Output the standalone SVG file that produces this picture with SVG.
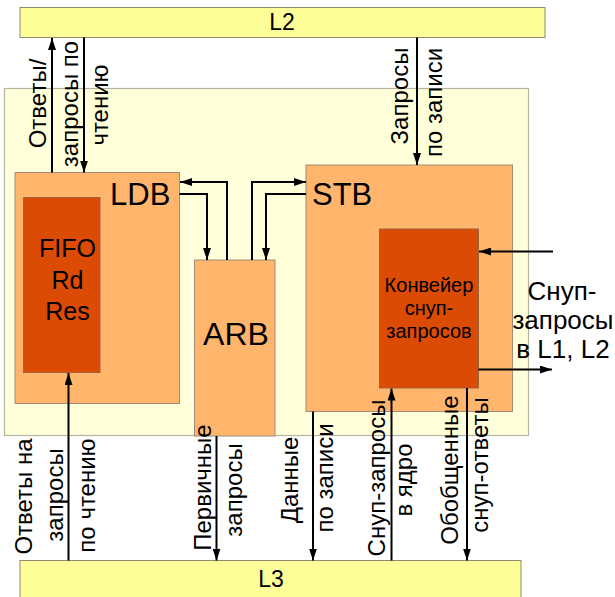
<svg xmlns="http://www.w3.org/2000/svg" width="615" height="597" viewBox="0 0 615 597">
<style>
text{font-family:"Liberation Sans",Arial,sans-serif;fill:#000}
.bar{fill:#ffff99;stroke:#8c8c6e;stroke-width:1}
.core{fill:#ffffd9;stroke:#b4b4a0;stroke-width:1.2}
.blk{fill:#ffb66c;stroke:#a08c78;stroke-width:1}
.dark{fill:#dc4b03;stroke:#a0643c;stroke-width:1}
.c{fill:none;stroke:#000;stroke-width:2}
.rl{font-size:24px;text-anchor:middle}
.big{font-size:31px}
.mid{text-anchor:middle}
</style>
<defs>
<marker id="ah" viewBox="0 0 12 8" refX="12" refY="4" markerWidth="12" markerHeight="8" markerUnits="userSpaceOnUse" orient="auto">
<path d="M0,0 L12,4 L0,8 Z" fill="#000"/>
</marker>
</defs>
<g id="L2"><rect class="bar" x="20" y="7.5" width="525" height="30"/><text x="282" y="30" font-size="23" class="mid">L2</text></g>
<g id="core"><rect class="core" x="4.5" y="88.5" width="524" height="347"/></g>
<g id="LDB"><rect class="blk" x="15" y="172.5" width="164.5" height="231"/><text x="110" y="205" class="big">LDB</text></g>
<g id="FIFO"><rect class="dark" x="23.5" y="197.5" width="76.5" height="175"/>
<text x="67.5" y="257" font-size="25" class="mid">FIFO</text>
<text x="67.5" y="289" font-size="25" class="mid">Rd</text>
<text x="67.5" y="319.5" font-size="25" class="mid">Res</text></g>
<g id="ARB"><rect class="blk" x="194.5" y="260" width="80.5" height="176"/><text x="236" y="345" font-size="32" class="mid">ARB</text></g>
<g id="STB"><rect class="blk" x="306" y="165" width="206.5" height="246.5"/><text x="312" y="205" class="big">STB</text></g>
<g id="snoop"><rect class="dark" x="379.5" y="229" width="99" height="159"/>
<text x="429" y="291.5" font-size="20" class="mid">Конвейер</text>
<text x="429" y="314.5" font-size="20" class="mid">снуп-</text>
<text x="429" y="338" font-size="20" class="mid">запросов</text></g>
<g id="L3"><rect class="bar" x="20" y="560.5" width="501" height="40"/><text x="271" y="587" font-size="23" class="mid">L3</text></g>
<g id="connectors">
<path class="c" d="M52,172.5 V38" marker-end="url(#ah)"/>
<path class="c" d="M84,37.5 V172.5" marker-end="url(#ah)"/>
<path class="c" d="M417,37.5 V165" marker-end="url(#ah)"/>
<path class="c" d="M227,260 V182 H180" marker-end="url(#ah)"/>
<path class="c" d="M179.5,194 H207 V260" marker-end="url(#ah)"/>
<path class="c" d="M252,260 V182 H306" marker-end="url(#ah)"/>
<path class="c" d="M306,194 H266 V260" marker-end="url(#ah)"/>
<path class="c" d="M553,251.5 H479" marker-end="url(#ah)"/>
<path class="c" d="M478.5,369.5 H552" marker-end="url(#ah)"/>
<path class="c" d="M68.5,560.5 V373" marker-end="url(#ah)"/>
<path class="c" d="M216.5,436 V560.5" marker-end="url(#ah)"/>
<path class="c" d="M313,411.5 V560.5" marker-end="url(#ah)"/>
<path class="c" d="M391.5,560.5 V388.5" marker-end="url(#ah)"/>
<path class="c" d="M467,388 V560.5" marker-end="url(#ah)"/>
</g>
<g id="labels">
<text class="rl" transform="translate(46,103.5) rotate(-90)">Ответы/</text>
<text class="rl" transform="translate(78,104) rotate(-90)">запросы по</text>
<text class="rl" transform="translate(108,105) rotate(-90)">чтению</text>
<text class="rl" transform="translate(408,96) rotate(-90)">Запросы</text>
<text class="rl" transform="translate(441.5,102.5) rotate(-90)">по записи</text>
<text class="rl" transform="translate(31.5,496.5) rotate(-90)">Ответы на</text>
<text class="rl" transform="translate(63,495) rotate(-90)">запросы</text>
<text class="rl" transform="translate(95,495.5) rotate(-90)">по чтению</text>
<text class="rl" transform="translate(211,487.5) rotate(-90)">Первичные</text>
<text class="rl" transform="translate(241.5,490) rotate(-90)">запросы</text>
<text class="rl" transform="translate(298,480) rotate(-90)">Данные</text>
<text class="rl" transform="translate(333,478) rotate(-90)">по записи</text>
<text class="rl" transform="translate(385,478) rotate(-90)">Снуп-запросы</text>
<text class="rl" transform="translate(411.5,480) rotate(-90)">в ядро</text>
<text class="rl" transform="translate(458,470) rotate(-90)">Обобщенные</text>
<text class="rl" transform="translate(488,465) rotate(-90)">снуп-ответы</text>
<text x="562" y="300" font-size="26" class="mid">Снуп-</text>
<text x="563" y="329" font-size="26" class="mid">запросы</text>
<text x="563" y="358" font-size="26" class="mid">в L1, L2</text>
</g>
</svg>
